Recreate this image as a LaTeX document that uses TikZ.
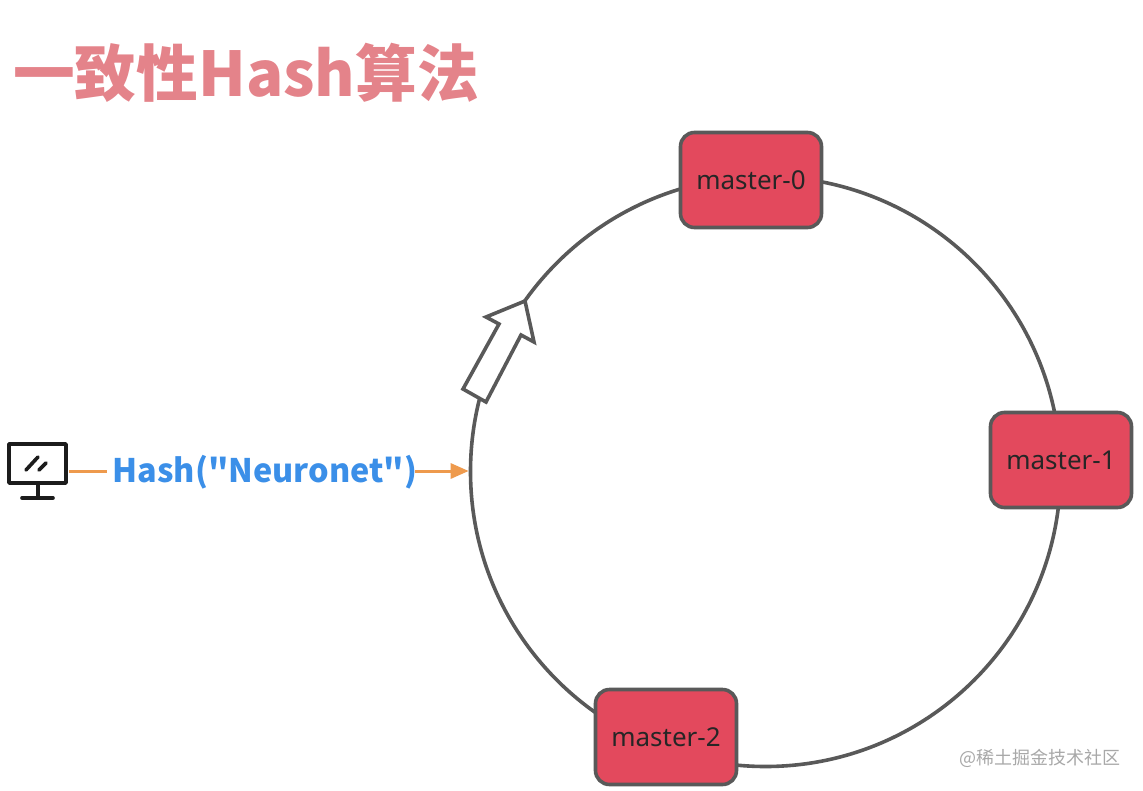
\documentclass[tikz,border=0pt]{standalone}
\usepackage{fontspec}
\setmainfont{Noto Sans}
\newfontfamily\cjk{Noto Sans CJK SC}
\usetikzlibrary{arrows.meta}
\definecolor{ringc}{HTML}{595959}
\definecolor{boxc}{HTML}{E3495D}
\definecolor{titlec}{HTML}{E4838A}
\definecolor{hashc}{HTML}{3B8FE8}
\definecolor{orangec}{HTML}{EE9A4D}
\definecolor{iconc}{HTML}{1C1C1C}
\definecolor{markc}{HTML}{A8A8A8}
\tikzset{
  master/.style={draw=ringc,line width=3.6pt,fill=boxc,rounded corners=14pt,minimum width=141pt,minimum height=95pt,inner sep=0pt,text=black!85,font=\fontsize{26}{30}\selectfont},
  ringline/.style={draw=ringc,line width=3.6pt},
  feed/.style={draw=orangec,line width=3pt},
  iconline/.style={draw=iconc,line width=3.6pt,line cap=round}
}
\begin{document}
\begin{tikzpicture}[x=1pt,y=-1pt]
\useasboundingbox (0,0) rectangle (1143,790);
\node[ringline,circle,minimum size=590pt,inner sep=0pt] (ring) at (765.5,471.5) {};
\node[master] (m0) at (751,180) {\raisebox{-1pt}{master-0}};
\node[master] (m1) at (1061,460) {\raisebox{-1pt}{master-1}};
\node[master] (m2) at (666,737) {\raisebox{-1pt}{master-2}};
\draw[ringline,fill=white,line join=miter] (525,301) -- (534,342) -- (521,335) -- (486,402) -- (463,389) -- (499,324) -- (486,317) -- cycle;
\node[inner sep=0pt,anchor=base west,text=titlec,font=\cjk\bfseries\fontsize{61.7}{68}\selectfont] (title) at (13,96) {一致性Hash算法};
\node[inner sep=0pt,text=hashc,font=\cjk\bfseries\fontsize{32.4}{38}\selectfont] (hash) at (265,472) {Hash("Neuronet")};
% monitor icon
\draw[iconline,line join=round] (9,444) rectangle (66,483);
\draw[iconline] (38,483) -- (38,497);
\draw[iconline] (22,498) -- (53,498);
\draw[iconline] (26,470) -- (38,457);
\draw[iconline] (39,470) -- (46,463);
\coordinate (monR) at (69,471);
\coordinate (hashL) at (107,471);
\draw[feed] (monR) -- (hashL);
\coordinate (hashR) at (415,471);
\draw[feed,-{Triangle[length=18pt,width=15pt]}] (hashR) -- (ring.west |- hashR);
\node[inner sep=0pt,anchor=east,text=markc,font=\cjk\fontsize{18}{22}\selectfont] (mark) at (1121,758) {@稀土掘金技术社区};
\end{tikzpicture}
\end{document}
